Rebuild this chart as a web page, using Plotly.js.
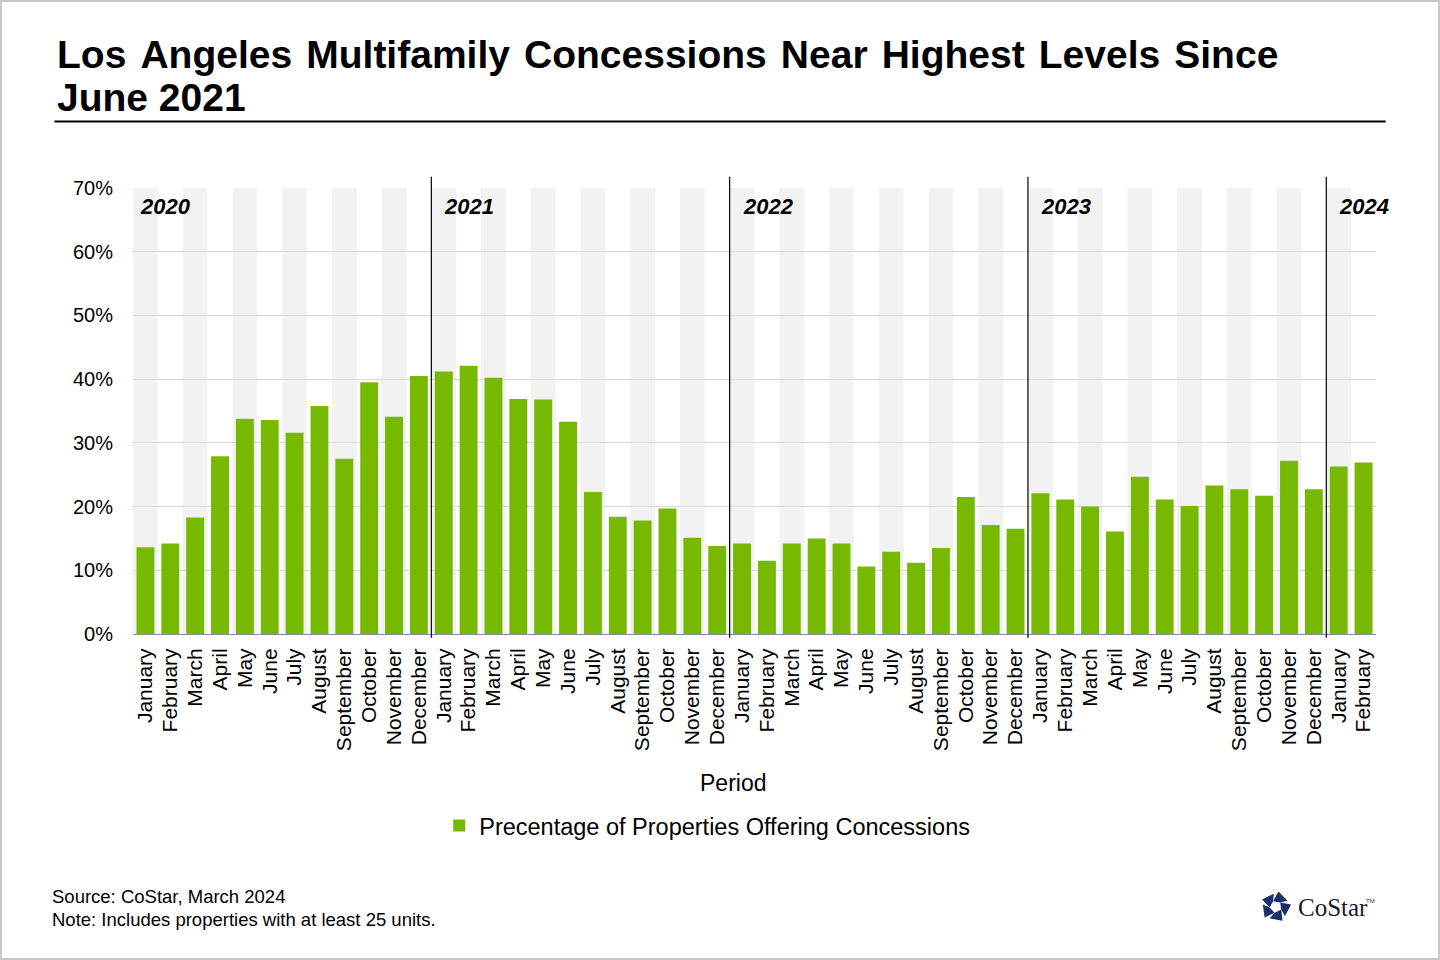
<!DOCTYPE html>
<html><head><meta charset="utf-8">
<script src="https://cdn.plot.ly/plotly-3.0.1.min.js"></script>
<style>
html,body{margin:0;padding:0;background:#fff;}
#chart{position:absolute;left:0;top:0;width:1440px;height:960px;}
#frame{position:absolute;left:0;top:0;width:1440px;height:960px;box-sizing:border-box;border:2px solid #c8c8c8;pointer-events:none;}
</style>
</head><body>
<div id="chart"></div><div id="frame"></div>
<script>
// ---- data ----
const monthNames = ["January","February","March","April","May","June","July","August","September","October","November","December"];
const years = ["2020","2021","2022","2023","2024"];
const values2020 = [13.6, 14.2, 18.3, 27.9, 33.8, 33.6, 31.6, 35.8, 27.5, 39.5, 34.1, 40.5];
const values2021 = [41.2, 42.1, 40.2, 36.9, 36.8, 33.3, 22.3, 18.4, 17.8, 19.7, 15.1, 13.8];
const values2022 = [14.2, 11.5, 14.2, 15.0, 14.2, 10.6, 12.9, 11.2, 13.5, 21.5, 17.1, 16.5];
const values2023 = [22.1, 21.1, 20.0, 16.1, 24.7, 21.1, 20.1, 23.3, 22.7, 21.7, 27.2, 22.7];
const values2024 = [26.3, 26.9];
const seriesName = "Precentage of Properties Offering Concessions";
const titleLines = ["Los Angeles Multifamily Concessions Near Highest Levels Since", "June 2021"];
const xAxisTitle = "Period";
const sourceText = "Source: CoStar, March 2024";
const noteText = "Note: Includes properties with at least 25 units.";

// ---- build ----
const yearValues = [values2020, values2021, values2022, values2023, values2024];
const periods = [], tickText = [], vals = [], yearStartIdx = [];
yearValues.forEach((arr, yi) => {
  yearStartIdx.push(periods.length);
  arr.forEach((v, mi) => {
    periods.push(monthNames[mi] + " " + years[yi]);
    tickText.push(monthNames[mi]);
    vals.push(v);
  });
});

const W = 1440, H = 960;
const L = 132.6, R = 1376.3, T = 188.3, B = 634.3;
const px = x => (x - L) / (R - L);
const py = y => (B - y) / (B - T);
const FONT = 'Liberation Sans, Arial, sans-serif';

const shapes = [];
// alternating background bands
for (let i = 0; i < periods.length; i += 2) {
  shapes.push({type:'rect', xref:'x', yref:'y', x0:i-0.5, x1:i+0.5, y0:0, y1:70,
    fillcolor:'#f2f2f2', line:{width:0}, layer:'below'});
}
// year separators
yearStartIdx.slice(1).forEach(idx => {
  shapes.push({type:'line', xref:'x', yref:'paper', x0:idx-0.5, x1:idx-0.5, y0:py(638), y1:py(177),
    line:{color:'#000', width:1.2}, layer:'above'});
});
// title underline
shapes.push({type:'line', xref:'paper', yref:'paper', x0:px(54), x1:px(1386), y0:py(121.7), y1:py(121.7),
  line:{color:'#000', width:2}});
// logo icon
(function(){
  const cx = 1276, cy = 907, Ro = 15.5, ri = 6.2;
  const pt = (a, r) => [cx + r*Math.cos(a*Math.PI/180), cy + r*Math.sin(a*Math.PI/180)];
  for (let k = 0; k < 5; k++) {
    const a = -90 + 72*k + 10;
    const O1 = pt(a, Ro), O2 = pt(a+72, Ro);
    const P = [O1[0] + 0.72*(O2[0]-O1[0]), O1[1] + 0.72*(O2[1]-O1[1])];
    const I1 = pt(a+36, ri), I0 = pt(a-36, ri);
    const pts = [O1, P, I1, I0];
    const path = 'M' + pts.map(p => px(p[0]).toFixed(5) + ',' + py(p[1]).toFixed(5)).join('L') + 'Z';
    shapes.push({type:'path', xref:'paper', yref:'paper', path:path, fillcolor:'#1d2f6b', line:{width:0}});
  }
})();

const annotations = [];
titleLines.forEach((t, i) => {
  const txt = i === 0 ? t.split(' ').join(' \u200A') : t;
  annotations.push({text:'<b>'+txt+'</b>', xref:'paper', yref:'paper', x:px(55), y:py(i === 0 ? 55 : 98), xanchor:'left', yanchor:'middle',
    align:'left', showarrow:false, font:{family:FONT, size:39, color:'#000'}});
});
years.forEach((y, i) => {
  annotations.push({text:'<b><i>'+y+'</i></b>', xref:'x', yref:'paper', x:yearStartIdx[i]-0.5, y:py(207), xanchor:'left', yanchor:'middle',
    xshift: i === 0 ? 5 : 11, showarrow:false, font:{family:FONT, size:22, color:'#000'}});
});
annotations.push({text:xAxisTitle, xref:'paper', yref:'paper', x:px(733), y:py(783), xanchor:'center', yanchor:'middle',
  showarrow:false, font:{family:FONT, size:23, color:'#000'}});
annotations.push({text:sourceText, xref:'paper', yref:'paper', x:px(50), y:py(897), xanchor:'left', yanchor:'middle',
  showarrow:false, font:{family:FONT, size:18.5, color:'#000'}});
annotations.push({text:noteText, xref:'paper', yref:'paper', x:px(50), y:py(920), xanchor:'left', yanchor:'middle',
  showarrow:false, font:{family:FONT, size:18.5, color:'#000'}});
annotations.push({text:'CoStar', xref:'paper', yref:'paper', x:px(1296), y:py(908), xanchor:'left', yanchor:'middle',
  showarrow:false, font:{family:'Liberation Serif, Times New Roman, serif', size:25, color:'#1a1a2e'}});
annotations.push({text:'TM', xref:'paper', yref:'paper', x:px(1364), y:py(901), xanchor:'left', yanchor:'middle',
  showarrow:false, font:{family:FONT, size:6, color:'#333'}});

const trace = {
  type:'bar', x:periods, y:vals, name:seriesName, marker:{color:'#76b900', line:{width:0}},
  hoverinfo:'skip', showlegend:true
};

const layout = {
  width:W, height:H, paper_bgcolor:'#fff', plot_bgcolor:'rgba(0,0,0,0)',
  margin:{l:L, r:W-R, t:T, b:H-B, pad:0},
  bargap:0.28,
  font:{family:FONT, color:'#000'},
  showlegend:true,
  legend:{orientation:'h', x:px(439), xanchor:'left', y:py(826), yanchor:'middle', font:{family:FONT, size:23.5, color:'#000'},
    bgcolor:'rgba(0,0,0,0)'},
  xaxis:{type:'category', range:[-0.5, periods.length-0.5], tickmode:'array', tickvals:periods, ticktext:tickText,
    tickangle:-90, tickfont:{family:FONT, size:21, color:'#000'}, showgrid:false, showline:true, linecolor:'#8c8c8c', linewidth:1,
    ticks:'', zeroline:false, automargin:false, fixedrange:true, ticklabelstandoff:5},
  yaxis:{range:[0,70], dtick:10, tick0:0, ticksuffix:'%', tickfont:{family:FONT, size:20, color:'#000'},
    showgrid:true, gridcolor:'#d9d9d9', gridwidth:1, zeroline:false, showline:false, ticks:'', ticklabelstandoff:19,
    automargin:false, fixedrange:true},
  shapes:shapes, annotations:annotations
};

Plotly.newPlot('chart', [trace], layout, {displayModeBar:false, staticPlot:true});
</script>
</body></html>
